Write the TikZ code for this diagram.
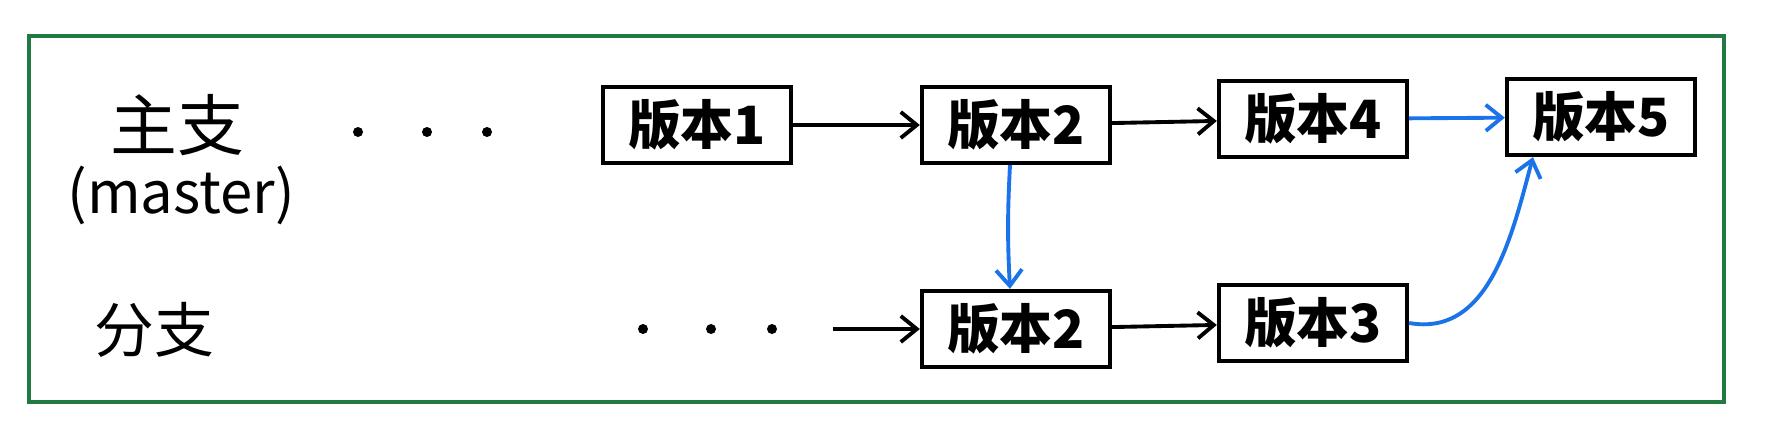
\documentclass[tikz,border=0pt]{standalone}
\usepackage{fontspec}
\setmainfont{Noto Sans CJK SC}
\usetikzlibrary{arrows.meta}
\definecolor{framegreen}{RGB}{32,122,66}
\definecolor{mergeblue}{RGB}{26,115,232}
\tikzset{
	>={Straight Barb[length=1.6mm, width=2.6mm]},
	version/.style={draw, line width=1.2pt, minimum width=1.88cm, minimum height=0.76cm, inner sep=0pt, font=\fontsize{15}{17}\selectfont\bfseries},
	link/.style={->, line width=1.1pt},
	merge/.style={->, line width=1.1pt, draw=mergeblue}
}
\begin{document}
\begin{tikzpicture}[x=0.01cm, y=-0.01cm]
	\useasboundingbox (0,0) rectangle (1766,433);
	\draw[framegreen, line width=0.9pt] (29,36) rectangle (1724,402);

	\node (master) at (177,125) {\fontsize{19}{21}\selectfont 主支};
	\node (mastername) at (181,195) {\fontsize{16.5}{18}\selectfont (master)};
	\node (branch) at (154,330) {\fontsize{17}{19}\selectfont 分支};

	\foreach \x in {358,427,487} \fill (\x,132) circle (5);
	\foreach \x in {643,711,772} \fill (\x,329) circle (5);
	\coordinate (start) at (833,329);

	\node[version] (v1) at (697,125) {版本1};
	\node[version] (v2) at (1016,125) {版本2};
	\node[version] (v4) at (1313,119) {版本4};
	\node[version] (v5) at (1601,117) {版本5};
	\node[version] (v2b) at (1016,329) {版本2};
	\node[version] (v3) at (1313,323) {版本3};

	\draw[link] (v1) to node {} (v2);
	\draw[link] (v2) to node {} (v4);
	\draw[link] (start) to node {} (v2b);
	\draw[link] (v2b) to node {} (v3);

	\draw[merge] ([xshift=-0.06cm]v2.south) to[bend right=3] ([xshift=-0.06cm]v2b.north);
	\draw[merge] (v4) to node {} (v5);
	\draw[merge] (v3.east) to[out=-10, in=-105] ([xshift=-0.68cm]v5.south);
\end{tikzpicture}
\end{document}
